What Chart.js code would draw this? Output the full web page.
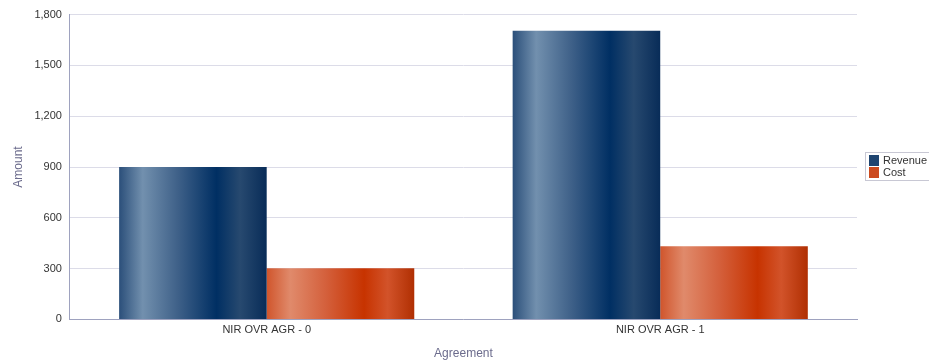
<!DOCTYPE html>
<html>
<head>
<meta charset="utf-8">
<script src="https://cdn.jsdelivr.net/npm/chart.js@4/dist/chart.umd.min.js"></script>
<style>
html,body{margin:0;padding:0;background:#fff;}
#wrap{position:relative;width:929px;height:362px;}
</style>
</head>
<body>
<div id="wrap"><canvas id="c" width="929" height="362"></canvas></div>
<script>
const categories = ["NIR OVR AGR - 0", "NIR OVR AGR - 1"];
const revenue = [900, 1705];
const cost = [302, 432];
const seriesNames = ["Revenue", "Cost"];
const yTicks = [0, 300, 600, 900, 1200, 1500, 1800];

const palettes = [
  [[0,"#2b4f7a"],[0.16,"#7290ae"],[0.4,"#3e6088"],[0.66,"#002f63"],[0.82,"#27496f"],[1,"#082c58"]],
  [[0,"#d0552c"],[0.16,"#e08a6b"],[0.4,"#d4603c"],[0.66,"#c73300"],[0.82,"#d2532a"],[1,"#b02f02"]]
];
const solid = ["#1e4470", "#cc4a1e"];

const gradPlugin = {
  id: "grad",
  beforeDatasetsDraw(chart) {
    const ctx = chart.ctx;
    chart.data.datasets.forEach((ds, di) => {
      const meta = chart.getDatasetMeta(di);
      meta.data.forEach(el => {
        const w = el.width;
        const x0 = el.x - w / 2;
        const g = ctx.createLinearGradient(x0, 0, x0 + w, 0);
        palettes[di].forEach(s => g.addColorStop(s[0], s[1]));
        const o = {};
        for (const k in el.options) o[k] = el.options[k];
        o.backgroundColor = g;
        el.options = o;
      });
    });
  }
};

const legendPlugin = {
  id: "sideLegend",
  afterDraw(chart) {
    const ctx = chart.ctx;
    ctx.save();
    ctx.strokeStyle = "#c8c8d4";
    ctx.lineWidth = 1;
    ctx.strokeRect(865.5, 152.5, 70, 28);
    ctx.font = "11px 'Liberation Sans', Arial, sans-serif";
    ctx.textBaseline = "middle";
    seriesNames.forEach((n, i) => {
      const y = 155 + i * 12;
      ctx.fillStyle = solid[i];
      ctx.fillRect(869, y, 10, 11);
      ctx.fillStyle = "#333";
      ctx.fillText(n, 883, y + 6);
    });
    ctx.restore();
  }
};

new Chart(document.getElementById("c"), {
  type: "bar",
  data: {
    labels: categories,
    datasets: [
      { label: seriesNames[0], data: revenue, backgroundColor: solid[0] },
      { label: seriesNames[1], data: cost, backgroundColor: solid[1] }
    ]
  },
  options: {
    responsive: false,
    animation: false,
    events: [],
    layout: { padding: { top: 10, right: 72, left: 11, bottom: 1 } },
    datasets: { bar: { categoryPercentage: 0.75, barPercentage: 1.0, borderWidth: 0 } },
    plugins: { legend: { display: false }, tooltip: { enabled: false } },
    scales: {
      x: {
        grid: { display: false, drawTicks: false },
        border: { color: "#9ea2bf", width: 1 },
        ticks: { color: "#333", font: { family: "'Liberation Sans', Arial, sans-serif", size: 11 }, padding: 4 },
        title: { display: true, text: "Agreement", color: "#6b6b8c", font: { family: "'Liberation Sans', Arial, sans-serif", size: 12 }, padding: { top: 6, bottom: 0 } }
      },
      y: {
        min: 0, max: 1800,
        afterBuildTicks(axis) { axis.ticks = yTicks.map(v => ({ value: v })); },
        grid: { color: "#dcdce8", drawTicks: false },
        border: { color: "#9ea2bf", width: 1 },
        ticks: {
          color: "#333", font: { family: "'Liberation Sans', Arial, sans-serif", size: 11 }, padding: 8,
          callback: v => v.toLocaleString("en-US")
        },
        title: { display: true, text: "Amount", color: "#6b6b8c", font: { family: "'Liberation Sans', Arial, sans-serif", size: 12 }, padding: { top: 0, bottom: 1 } }
      }
    }
  },
  plugins: [gradPlugin, legendPlugin]
});
</script>
</body>
</html>
